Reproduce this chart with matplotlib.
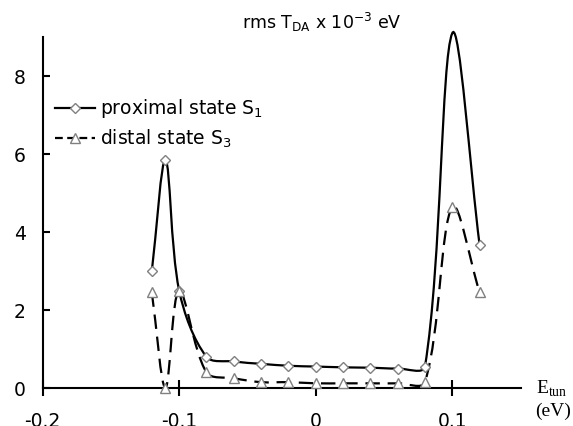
import matplotlib
matplotlib.use('Agg')
import matplotlib.pyplot as plt
import numpy as np
from matplotlib.path import Path
from matplotlib.patches import PathPatch
from matplotlib.lines import Line2D

plt.rcParams['font.family'] = ['DejaVu Sans']
plt.rcParams['mathtext.fontset'] = 'custom'
plt.rcParams['mathtext.rm'] = 'Liberation Serif'
plt.rcParams['mathtext.sf'] = 'DejaVu Sans'
plt.rcParams['axes.unicode_minus'] = False

# values
e_tun = [-0.12, -0.11, -0.10, -0.08, -0.06, -0.04, -0.02, 0.0, 0.02, 0.04, 0.06, 0.08, 0.10, 0.12]
proximal = [3.0, 5.85, 2.5, 0.8, 0.68, 0.62, 0.57, 0.55, 0.53, 0.52, 0.5, 0.55, 9.1, 3.67]
distal = [2.45, 0.0, 2.5, 0.4, 0.25, 0.15, 0.15, 0.12, 0.12, 0.12, 0.12, 0.15, 4.65, 2.45]

x_ticks = [-0.2, -0.1, 0, 0.1]
x_tick_labels = ['-0.2', '-0.1', '0', '0.1']
y_ticks = [0, 2, 4, 6, 8]


def smooth_path(ax, x, y):
    # Excel-like smoothed line, built in screen space so the tangents
    # shrink next to short segments, then mapped back to data space
    pts = ax.transData.transform(np.column_stack([x, y]))
    ext = np.vstack([pts[0], pts, pts[-1]])
    f = 1.0 / 6.0
    verts = [pts[0]]
    codes = [Path.MOVETO]
    for i in range(len(pts) - 1):
        p0, p1, p2, p3 = ext[i], ext[i + 1], ext[i + 2], ext[i + 3]
        d01 = np.hypot(*(p1 - p0))
        d12 = np.hypot(*(p2 - p1))
        d23 = np.hypot(*(p3 - p2))
        s1 = 2 * d12 / (d01 + d12) if d01 + d12 > 0 else 1
        s2 = 2 * d12 / (d12 + d23) if d12 + d23 > 0 else 1
        verts += [p1 + (p2 - p0) * f * s1, p2 - (p3 - p1) * f * s2, p2]
        codes += [Path.CURVE4] * 3
    verts = ax.transData.inverted().transform(np.array(verts))
    return Path(verts, codes)


fig = plt.figure(figsize=(5.73, 4.26), dpi=100)
ax = fig.add_axes([0.0743, 0.0892, 0.8342, 0.8238])
ax.set_xlim(-0.2, 0.15)
ax.set_ylim(0, 9)

ax.add_patch(PathPatch(smooth_path(ax, e_tun, proximal), fill=False, color='black',
                       lw=1.6, clip_on=False))
ax.add_patch(PathPatch(smooth_path(ax, e_tun, distal), fill=False, color='black',
                       lw=1.6, ls=(0, (6.5, 3.5)), clip_on=False))

ymax = ax.get_ylim()[1]
px = [a for a, b in zip(e_tun, proximal) if b <= ymax]
py = [b for b in proximal if b <= ymax]
ax.plot(px, py, ls='none', marker='D', ms=5, mfc='white', mec='#808080', mew=1.0, zorder=3)
ax.plot(e_tun, distal, ls='none', marker='^', ms=7, mfc='white', mec='#808080', mew=1.0,
        zorder=3, clip_on=False)

for s in ['top', 'right']:
    ax.spines[s].set_visible(False)
for s in ['left', 'bottom']:
    ax.spines[s].set_linewidth(1.5)

ax.set_xticks(x_ticks)
ax.set_xticklabels(x_tick_labels)
ax.set_yticks(y_ticks)
ax.tick_params(axis='x', direction='inout', length=11, width=1.5, pad=11.5, labelsize=13.5)
ax.tick_params(axis='y', direction='in', length=5, width=1.5, pad=12, labelsize=13.5)

handles = [
    Line2D([], [], color='black', lw=1.6, marker='D', ms=5, mfc='white', mec='#808080'),
    Line2D([], [], color='black', lw=1.6, ls=(0, (3.5, 2)), marker='^', ms=7, mfc='white',
           mec='#808080'),
]
ax.legend(handles, [r'proximal state S$_{\mathsf{1}}$', r'distal state S$_{\mathsf{3}}$'],
          loc='upper left', bbox_to_anchor=(0.026, 0.829), frameon=False, fontsize=13.5,
          handlelength=2.13, handletextpad=0.27, labelspacing=0.4, borderpad=0,
          borderaxespad=0)

fig.text(0.561, 0.932, r'rms T$_{\mathsf{DA}}$ x 10$^{\mathsf{-3}}$ eV', ha='center',
         va='baseline', fontsize=12.5)
fig.text(0.936, 0.088, r'E$_{\mathrm{tun}}$', ha='left', va='center', fontsize=14,
         family='Liberation Serif')
fig.text(0.934, 0.034, '(eV)', ha='left', va='center', fontsize=14, family='Liberation Serif')

fig.savefig('out.png', dpi=100)
